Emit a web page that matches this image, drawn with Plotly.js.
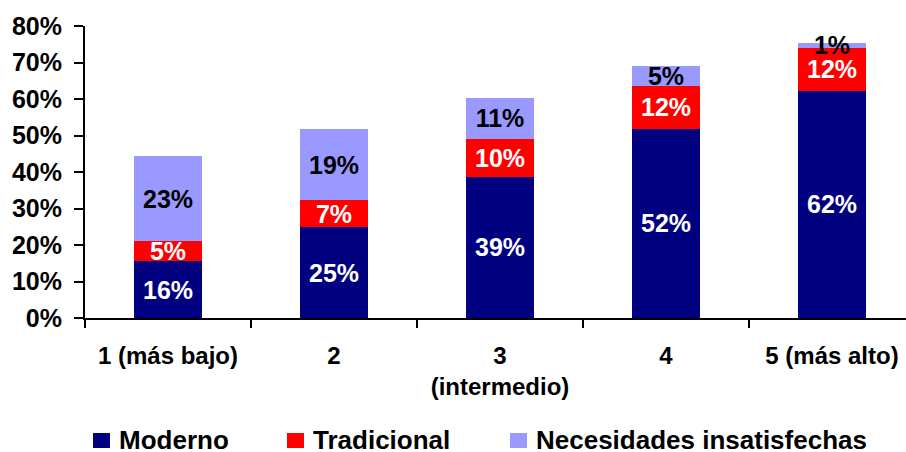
<!DOCTYPE html>
<html>
<head>
<meta charset="utf-8">
<script src="https://cdn.plot.ly/plotly-3.0.1.min.js"></script>
<style>
  html, body { margin: 0; padding: 0; overflow: hidden; background: #fff; }
  #chart { width: 915px; height: 452px; }
</style>
</head>
<body>
<div id="chart"></div>
<script>
// ---- data ----
const categories = ['1 (más bajo)', '2', '3<br>(intermedio)', '4', '5 (más alto)'];
const seriesNames = ['Moderno', 'Tradicional', 'Necesidades insatisfechas'];
const moderno = [15.6, 24.9, 38.7, 51.8, 62.2];
const tradicional = [5.4, 7.4, 10.3, 11.8, 11.8];
const necesidades = [23.4, 19.4, 11.4, 5.4, 1.4];
const yTickVals = [0, 10, 20, 30, 40, 50, 60, 70, 80];

// ---- styles ----
const seriesValues = [moderno, tradicional, necesidades];
const colors = ['#000080', '#FF0000', '#9999FF'];
const textColors = ['#FFFFFF', '#FFFFFF', '#000000'];
const FONT = 'Arial, "Liberation Sans", sans-serif';

const W = 915, H = 452;
const M = { l: 85, r: 0, t: 26, b: 134 };
const pw = W - M.l - M.r, ph = H - M.t - M.b;
const px = p => (p - M.l) / pw;
const py = p => (H - M.b - p) / ph;

const traces = seriesValues.map((vals, i) => ({
  type: 'bar',
  name: seriesNames[i],
  x: categories,
  y: vals,
  text: vals.map(v => Math.round(v) + '%'),
  textposition: 'inside',
  insidetextanchor: 'middle',
  constraintext: 'none',
  textangle: 0,
  textfont: { family: FONT, size: 25, color: textColors[i], weight: 'bold' },
  marker: { color: colors[i], line: { width: 0 } },
  hoverinfo: 'skip',
  showlegend: false
}));

// manual legend
const legendX = [93, 287, 510];
const shapes = [], annotations = [];
seriesNames.forEach((n, i) => {
  shapes.push({
    type: 'rect', xref: 'paper', yref: 'paper',
    x0: px(legendX[i]), x1: px(legendX[i] + 17),
    y0: py(448), y1: py(433),
    fillcolor: colors[i], line: { width: 0 }
  });
  annotations.push({
    xref: 'paper', yref: 'paper',
    x: px(legendX[i] + 24), y: py(440),
    xanchor: 'left', yanchor: 'middle',
    height: 24,
    text: n, showarrow: false,
    font: { family: FONT, size: 26, color: '#000', weight: 'bold' }
  });
});

const layout = {
  width: W, height: H,
  margin: M,
  barmode: 'stack',
  bargap: 0.596,
  paper_bgcolor: '#fff',
  plot_bgcolor: '#fff',
  showlegend: false,
  font: { family: FONT, color: '#000', weight: 'bold' },
  xaxis: {
    type: 'category',
    showgrid: false, zeroline: false,
    showline: true, linecolor: '#000', linewidth: 2,
    ticks: 'outside', tickson: 'boundaries', ticklen: 8, tickwidth: 2, tickcolor: '#000',
    tickfont: { family: FONT, size: 24, color: '#000', weight: 'bold' },
    ticklabelstandoff: 15
  },
  yaxis: {
    range: [0, 80],
    tickvals: yTickVals,
    ticktext: yTickVals.map(v => v + '%'),
    showgrid: false, zeroline: false,
    showline: true, linecolor: '#000', linewidth: 2,
    ticks: 'outside', ticklen: 9, tickwidth: 2, tickcolor: '#000',
    tickfont: { family: FONT, size: 25, color: '#000', weight: 'bold' },
    ticklabelstandoff: 7
  },
  shapes: shapes,
  annotations: annotations
};

Plotly.newPlot('chart', traces, layout, { displayModeBar: false, staticPlot: true });
</script>
</body>
</html>
